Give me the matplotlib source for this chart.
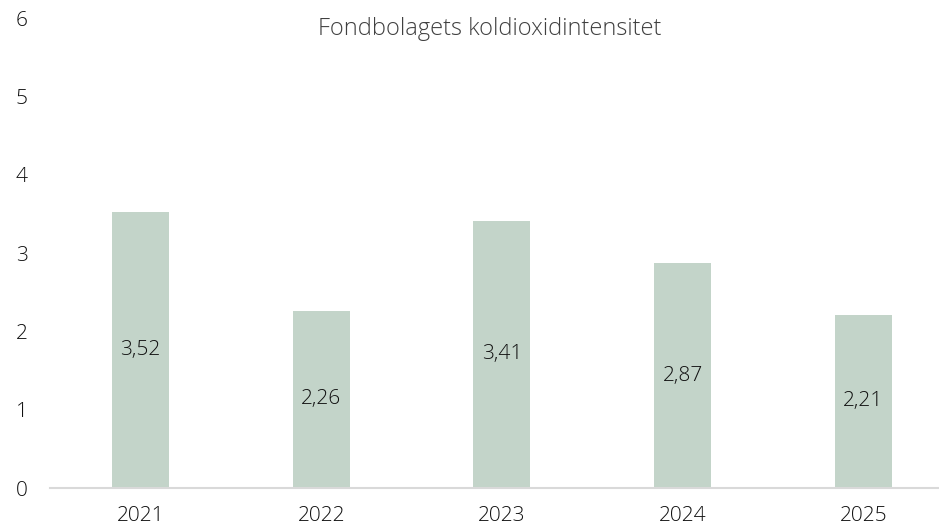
import matplotlib.pyplot as plt

years = ['2021', '2022', '2023', '2024', '2025']
values = [3.52, 2.26, 3.41, 2.87, 2.21]
labels = ['3,52', '2,26', '3,41', '2,87', '2,21']

plt.rcParams['font.family'] = ['Open Sans', 'DejaVu Sans']
plt.rcParams['font.weight'] = 'light'

fig = plt.figure(figsize=(9.39, 5.26), dpi=100)
ax = fig.add_axes([50/939, 38/526, 889/939, 470/526])

x = range(len(years))
ax.bar(x, values, width=0.315, color='#c3d4c9')
for i, v in enumerate(values):
    ax.text(i, v/2, labels[i], ha='center', va='center', fontsize=15, color='#111111', fontweight='light')

ax.set_xlim(-0.5, 4.418)
ax.set_ylim(0, 6)
ax.set_yticks(range(0, 7))
ax.set_xticks(list(x))
ax.set_xticklabels(years)
for s in ['top', 'right', 'left']:
    ax.spines[s].set_visible(False)
ax.spines['bottom'].set_color('#d9d9d9')
ax.spines['bottom'].set_linewidth(1.5)
ax.tick_params(axis='both', length=0, labelsize=15, labelcolor='#111111')
ax.tick_params(axis='y', pad=16)
ax.tick_params(axis='x', pad=13)
for t in ax.get_yticklabels():
    t.set_horizontalalignment('right')

fig.text(490/939, 1 - 29/526, 'Fondbolagets koldioxidintensitet', ha='center', va='center',
         fontsize=17, color='#404040', fontweight='light')

fig.savefig('out.png', dpi=100)
